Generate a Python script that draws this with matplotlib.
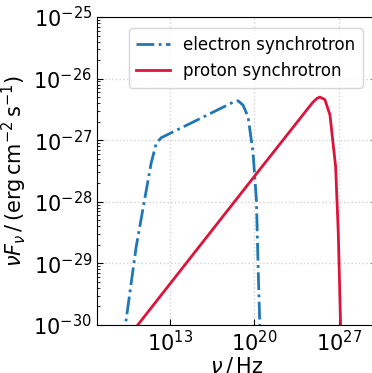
import matplotlib

matplotlib.use("Agg")

import matplotlib.pyplot as plt
import numpy as np
from matplotlib.ticker import FixedLocator, NullLocator, LogLocator

# log10 values
electron_lognu = [9.2, 9.35, 10.24, 10.93, 11.48, 11.9, 12.31, 15.0, 18.39, 18.66,
                  19.07, 19.49, 19.9, 20.18, 20.32, 20.46, 20.5]
electron_logflux = [-30.3, -30.0, -28.73, -27.97, -27.37, -27.05, -26.96, -26.70,
                    -26.37, -26.36, -26.43, -26.62, -27.2, -27.97, -29.05, -30.0, -30.3]

proton_lognu = [9.5, 10.37, 15.0, 20.0, 24.5, 24.87, 25.2, 25.43, 25.84, 26.26,
                26.73, 26.95, 27.14, 27.2]
proton_logflux = [-30.22, -30.0, -28.84, -27.59, -26.47, -26.38, -26.32, -26.30,
                  -26.34, -26.59, -27.43, -28.51, -30.0, -30.5]

x_ticks = [1e13, 1e20, 1e27]

fig = plt.figure(figsize=(3.72, 3.73), dpi=100)
ax = fig.add_axes([97 / 372, 48 / 373, 280 / 372, 308 / 373])

ax.plot(10 ** np.array(electron_lognu), 10 ** np.array(electron_logflux),
        "-.", color="#1f77b4", lw=2, label="electron synchrotron")
ax.plot(10 ** np.array(proton_lognu), 10 ** np.array(proton_logflux),
        "-", color="crimson", lw=2, label="proton synchrotron")

ax.set_xscale("log")
ax.set_yscale("log")
ax.set_xlim(1e7, 10 ** 30.15)
ax.set_ylim(1e-30, 1e-25)

ax.xaxis.set_major_locator(FixedLocator(x_ticks))
ax.xaxis.set_minor_locator(NullLocator())
ax.yaxis.set_major_locator(LogLocator(base=10, numticks=10))
ax.yaxis.set_minor_locator(LogLocator(base=10, subs=np.arange(2, 10), numticks=10))

ax.tick_params(which="both", direction="in", labelsize=15, top=False, right=True)
ax.tick_params(which="major", length=4)
ax.tick_params(which="minor", length=2)
ax.grid(True, which="major", ls=":", color="lightgray", lw=1)

ax.set_xlabel(r"$\nu\,/\,\mathrm{Hz}$", fontsize=15, labelpad=0)
ax.set_ylabel(r"$\nu F_\nu\,/\,(\mathrm{erg\,cm^{-2}\,s^{-1}})$", fontsize=15, labelpad=3)

ax.legend(loc="upper right", fontsize=12, bbox_to_anchor=(0.978, 0.99),
          handlelength=2.0, borderpad=0.45)

fig.savefig("out.png", dpi=100)
